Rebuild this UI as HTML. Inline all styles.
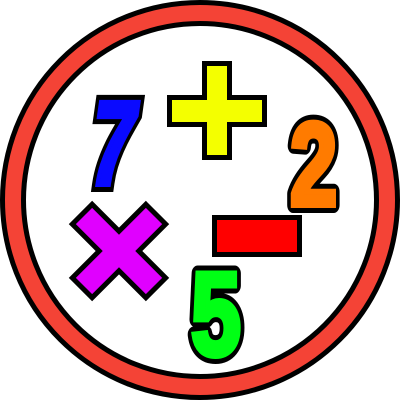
<!DOCTYPE html>
<html><head><style>html,body{margin:0;padding:0;background:#fff}svg{display:block}</style></head>
<body>
<svg width="400" height="400" viewBox="0 0 400 400" font-family="Liberation Sans, sans-serif" font-weight="bold">
  <circle cx="200" cy="200" r="187" fill="#fff" stroke="#000" stroke-width="26"/>
  <circle cx="200" cy="200" r="187" fill="none" stroke="#f44336" stroke-width="16"/>
  <path d="M204.5,63.5h25v34h35v27h-35v33h-25v-33h-35v-27h35z" fill="#f4ff00" stroke="#000" stroke-width="5"/>
  <rect x="214.5" y="217.5" width="85" height="37" fill="#ff0000" stroke="#000" stroke-width="5"/>
  <g transform="translate(119,251) rotate(45)">
    <path d="M-14,-52h28v38h38v28h-38v38h-28v-38h-38v-28h38z" fill="#e000ff" stroke="#000" stroke-width="5" stroke-linejoin="miter"/>
  </g>
  <g transform="translate(86,184) skewX(-8) scale(0.68,1)" font-size="118">
    <text stroke="#000" stroke-width="16" stroke-linejoin="miter">7</text>
    <text fill="#0a0aff" stroke="#0a0aff" stroke-width="6">7</text>
  </g>
  <g transform="translate(290,205) scale(0.72,1)" font-size="118">
    <text stroke="#000" stroke-width="16" stroke-linejoin="round">2</text>
    <text fill="#ff7b00" stroke="#ff7b00" stroke-width="6">2</text>
  </g>
  <g transform="translate(191,355) scale(0.76,1)" font-size="118">
    <text stroke="#000" stroke-width="16" stroke-linejoin="round">5</text>
    <text fill="#00ff15" stroke="#00ff15" stroke-width="6">5</text>
  </g>
</svg>
</body></html>
